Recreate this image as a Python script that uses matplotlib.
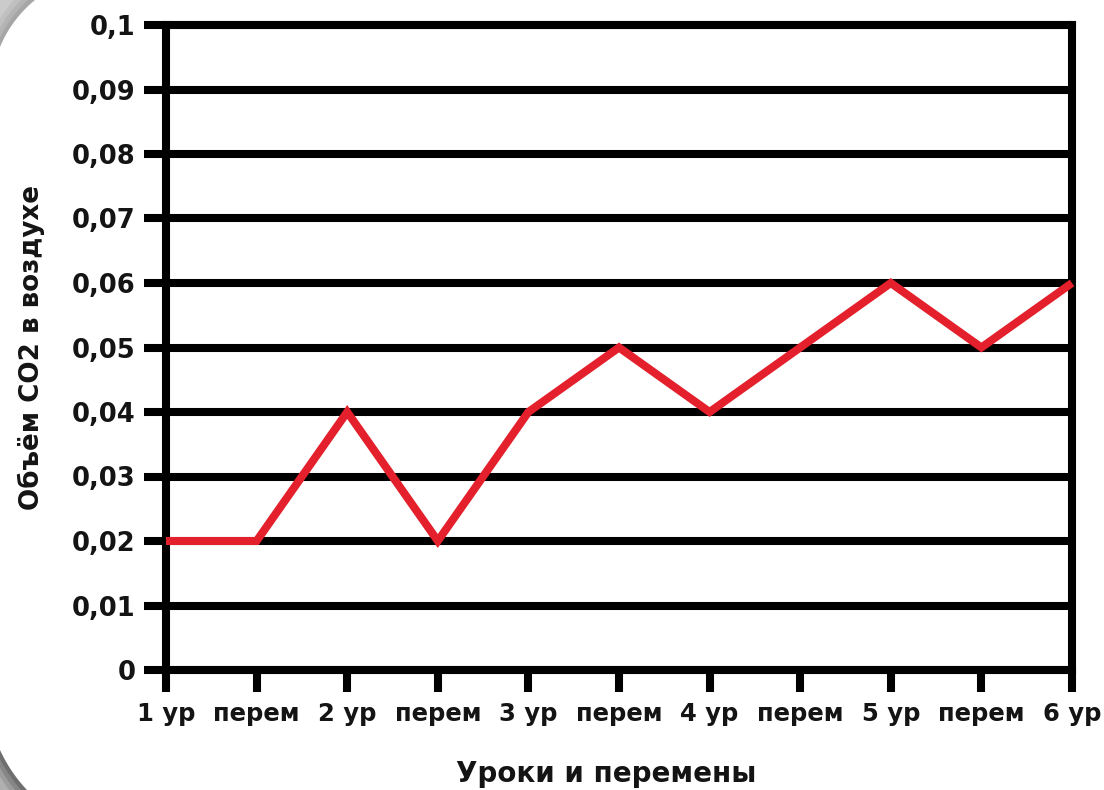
import numpy as np
import matplotlib
matplotlib.use("Agg")
import matplotlib.pyplot as plt
from matplotlib.patches import Polygon

# Chart data
categories = ["1 ур", "перем", "2 ур", "перем", "3 ур", "перем",
              "4 ур", "перем", "5 ур", "перем", "6 ур"]
co2_values = [0.02, 0.02, 0.04, 0.02, 0.04, 0.05, 0.04, 0.05, 0.06, 0.05, 0.06]
y_ticks = [0.0, 0.01, 0.02, 0.03, 0.04, 0.05, 0.06, 0.07, 0.08, 0.09, 0.1]
y_tick_labels = ["0", "0,01", "0,02", "0,03", "0,04", "0,05", "0,06",
                 "0,07", "0,08", "0,09", "0,1"]

W, H = 1104, 790
DPI = 100
LW = 5.8  # stroke width in points (~8 px)
FONT = ["DejaVu Sans"]
TXT = "#141414"

fig = plt.figure(figsize=(W / DPI, H / DPI), dpi=DPI)
fig.patch.set_facecolor("white")

# Background layer in pixel coordinates for the slide's rounded corners
bg = fig.add_axes([0, 0, 1, 1], zorder=-10)
bg.set_xlim(0, W)
bg.set_ylim(H, 0)
bg.axis("off")


def corner(p1, p2, r, corner_pt, shade, inward):
    """Gray area between a figure corner and an arc through p1 and p2."""
    p1 = np.array(p1, float)
    p2 = np.array(p2, float)
    mid = (p1 + p2) / 2
    d = p2 - p1
    half = np.linalg.norm(d) / 2
    n = np.array([-d[1], d[0]]) / np.linalg.norm(d)
    if np.dot(n, np.array(inward) - mid) < 0:
        n = -n
    c = mid + n * np.sqrt(r ** 2 - half ** 2)
    a1 = np.arctan2(p1[1] - c[1], p1[0] - c[0])
    a2 = np.arctan2(p2[1] - c[1], p2[0] - c[0])
    if a2 - a1 > np.pi:
        a2 -= 2 * np.pi
    elif a1 - a2 > np.pi:
        a1 -= 2 * np.pi
    t = np.linspace(a1, a2, 60)
    pts = np.column_stack([c[0] + r * np.cos(t), c[1] + r * np.sin(t)])
    pts = np.vstack([pts, corner_pt])
    bg.add_patch(Polygon(pts, closed=True, facecolor=shade, edgecolor="none"))


# layered shades: darker band along the edge, lighter toward the corner
for k, shade in enumerate(["#a6a6a6", "#b4b4b4", "#c0c0c0", "#cbcbcb"]):
    s = 1 - k * 0.2
    corner((35 * s, 0), (0, 47 * s), 120, (0, 0), shade, (400, 400))
for k, shade in enumerate(["#6e6e6e", "#868686", "#9c9c9c", "#b0b0b0"]):
    s = 1 - k * 0.22
    corner((0, H - 40 * s), (27 * s, H), 150, (0, H), shade, (400, 400))

# Main plot area
left, right = 166 / W, 1072 / W
bottom, top = (H - 670) / H, (H - 25) / H
ax = fig.add_axes([left, bottom, right - left, top - bottom])
ax.set_facecolor("none")

x = np.arange(len(categories))
ax.set_xlim(x[0], x[-1])
ax.set_ylim(0, 0.1)

for yv in y_ticks:
    ax.axhline(yv, color="black", lw=LW, zorder=1, clip_on=False,
               solid_capstyle="butt")

ax.plot(x, co2_values, color="#e3202b", lw=LW, zorder=3, clip_on=False,
        solid_joinstyle="miter", solid_capstyle="butt")

for side in ["left", "right", "top", "bottom"]:
    ax.spines[side].set_linewidth(LW)
    ax.spines[side].set_color("black")
    ax.spines[side].set_capstyle("projecting")

ax.set_xticks(x)
ax.set_xticklabels(categories)
ax.set_yticks(y_ticks)
ax.set_yticklabels(y_tick_labels)
ax.tick_params(axis="both", length=16, width=LW, color="black", pad=6,
               direction="out")
ax.tick_params(axis="x", pad=7)

for lbl in ax.get_yticklabels():
    lbl.set_fontfamily(FONT)
    lbl.set_fontweight("bold")
    lbl.set_fontsize(18.5)
    lbl.set_color(TXT)
for lbl in ax.get_xticklabels():
    lbl.set_fontfamily(FONT)
    lbl.set_fontweight("bold")
    lbl.set_fontsize(17.5)
    lbl.set_color(TXT)

fig.text(31 / W, 1 - 348 / H, "Объём СО2 в воздухе", rotation=90,
         ha="center", va="center", fontsize=18.8, fontweight="bold",
         family=FONT, color=TXT)
fig.text(606 / W, 1 - 774 / H, "Уроки и перемены", ha="center",
         va="center", fontsize=20, fontweight="bold", family=FONT,
         color=TXT)

fig.savefig("out.png", dpi=DPI, facecolor="white")
